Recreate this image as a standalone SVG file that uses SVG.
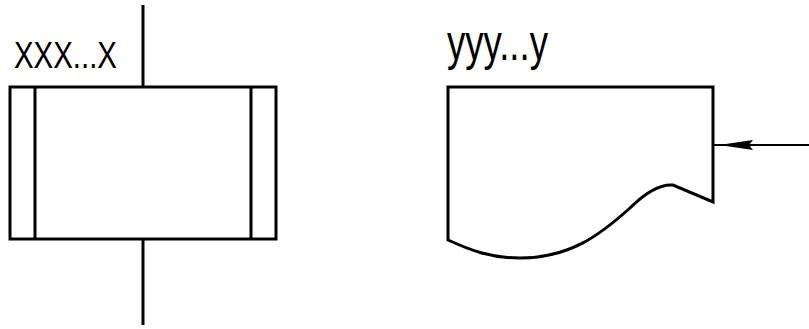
<svg xmlns="http://www.w3.org/2000/svg" width="809" height="329" viewBox="0 0 809 329">
  <style>
    .shape { fill: #ffffff; stroke: #000000; stroke-width: 3; stroke-linejoin: miter; }
    .line { fill: none; stroke: #000000; stroke-width: 3; }
    .thin { fill: none; stroke: #000000; stroke-width: 2; }
    .label { font-family: "Liberation Sans", Arial, sans-serif; fill: #000000; }
  </style>
  <defs>
    <marker id="dart" markerUnits="userSpaceOnUse" viewBox="0 0 40 12" refX="40" refY="6" markerWidth="40" markerHeight="12" orient="auto">
      <path d="M34,6 L0,1 L4,6 L0,11 Z" fill="#000000"/>
    </marker>
  </defs>
  <rect width="809" height="329" fill="#ffffff"/>

  <g id="connectors">
    <line class="line" x1="143" y1="5" x2="143" y2="87"/>
    <line class="line" x1="143" y1="239" x2="143" y2="325"/>
    <line class="thin" x1="809" y1="145" x2="713" y2="145" marker-end="url(#dart)"/>
  </g>

  <g id="process">
    <rect class="shape" x="10" y="87" width="266" height="152"/>
    <line class="line" x1="35" y1="87" x2="35" y2="239"/>
    <line class="line" x1="251" y1="87" x2="251" y2="239"/>
    <text class="label" x="14" y="68" font-size="36" textLength="103" lengthAdjust="spacingAndGlyphs">XXX...X</text>
  </g>

  <g id="document">
    <path class="shape" d="M448,87 L713,87 L713,202 L673,185 C660,184 645,193 630,208 C600,235 570,258 520,258 C490,258 470,250 448,240 Z"/>
    <text class="label" x="447" y="60" font-size="50" textLength="101" lengthAdjust="spacingAndGlyphs">yyy...y</text>
  </g>
</svg>
